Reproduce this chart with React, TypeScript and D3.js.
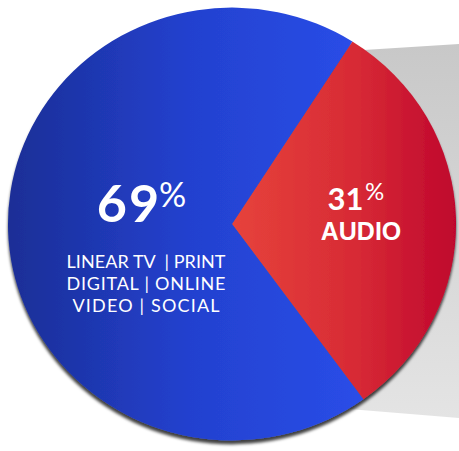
import React from "react";
import * as d3 from "d3";

const categories = ["AUDIO", "LINEAR TV | PRINT | DIGITAL | ONLINE VIDEO | SOCIAL"];
const values = [31, 69];
const bigLabels = ["31", "69"];
const blueLines = ["LINEAR TV  | PRINT", "DIGITAL | ONLINE", "VIDEO | SOCIAL"];

const W = 459;
const H = 451;
const CX = 232;
const CY = 224;
const R = 224;
const SY = 0.966;

export default function App() {
  const start = (32.5 * Math.PI) / 180;
  const pie = d3
    .pie<number>()
    .sort(null)
    .value((d) => d)
    .startAngle(start)
    .endAngle(start + 2 * Math.PI);
  const arcs = pie(values);
  const arc = d3.arc<d3.PieArcDatum<number>>().innerRadius(0).outerRadius(R);
  const fills = ["url(#redGrad)", "url(#blueGrad)"];

  return (
    <svg
      width={W}
      height={H}
      style={{ position: "absolute", left: 0, top: 0, background: "#fff" }}
    >
      <defs>
        <linearGradient id="blueGrad" gradientUnits="userSpaceOnUse" x1={8 - CX} y1={0} x2={370 - CX} y2={0}>
          <stop offset="0" stopColor="#1b2e96" />
          <stop offset="0.5" stopColor="#2341cf" />
          <stop offset="1" stopColor="#2a4ee9" />
        </linearGradient>
        <linearGradient id="redGrad" gradientUnits="userSpaceOnUse" x1={236 - CX} y1={0} x2={456 - CX} y2={0}>
          <stop offset="0" stopColor="#e6423b" />
          <stop offset="0.55" stopColor="#d72a35" />
          <stop offset="1" stopColor="#bf062d" />
        </linearGradient>
        <linearGradient id="grayGrad" x1="0" y1="0" x2="0" y2="1">
          <stop offset="0" stopColor="#c8c8c8" />
          <stop offset="1" stopColor="#e4e4e4" />
        </linearGradient>
        <filter id="shadow" x="-10%" y="-10%" width="120%" height="120%">
          <feDropShadow dx="0" dy="4" stdDeviation="1.5" floodColor="#000000" floodOpacity="0.75" />
        </filter>
      </defs>
      <polygon points="300,54 459,44 459,418 300,405" fill="url(#grayGrad)" />
      <g transform={`translate(${CX},${CY}) scale(1,${SY})`} filter="url(#shadow)">
        {arcs.map((a, i) => (
          <path key={categories[i]} d={arc(a) || ""} fill={fills[i]} />
        ))}
      </g>
      <g fill="#ffffff">
        <text x={129} y={222} fontFamily="Lato, 'DejaVu Sans', sans-serif" fontWeight={700} fontSize={52} textAnchor="middle" letterSpacing={2}>
          {bigLabels[1]}
        </text>
        <text x={159} y={207} fontFamily="Lato, 'DejaVu Sans', sans-serif" fontWeight={400} fontSize={34}>
          %
        </text>
        {blueLines.map((l, i) => (
          <text
            key={l}
            x={146}
            y={268 + i * 22}
            fontFamily="Lato, 'DejaVu Sans', sans-serif"
            fontWeight={400}
            fontSize={18}
            textAnchor="middle"
            textLength={i === 2 ? 147 : 159}
            lengthAdjust="spacing"
            style={{ whiteSpace: "pre" }}
          >
            {l}
          </text>
        ))}
        <text x={345.5} y={210} fontFamily="Lato, 'DejaVu Sans', sans-serif" fontWeight={700} fontSize={31} textAnchor="middle">
          {bigLabels[0]}
        </text>
        <text x={365} y={200} fontFamily="Lato, 'DejaVu Sans', sans-serif" fontWeight={400} fontSize={24}>
          %
        </text>
        <text x={361} y={240} fontFamily="'Liberation Sans', Arial, sans-serif" fontWeight={700} fontSize={25} textAnchor="middle">
          {categories[0]}
        </text>
      </g>
    </svg>
  );
}
